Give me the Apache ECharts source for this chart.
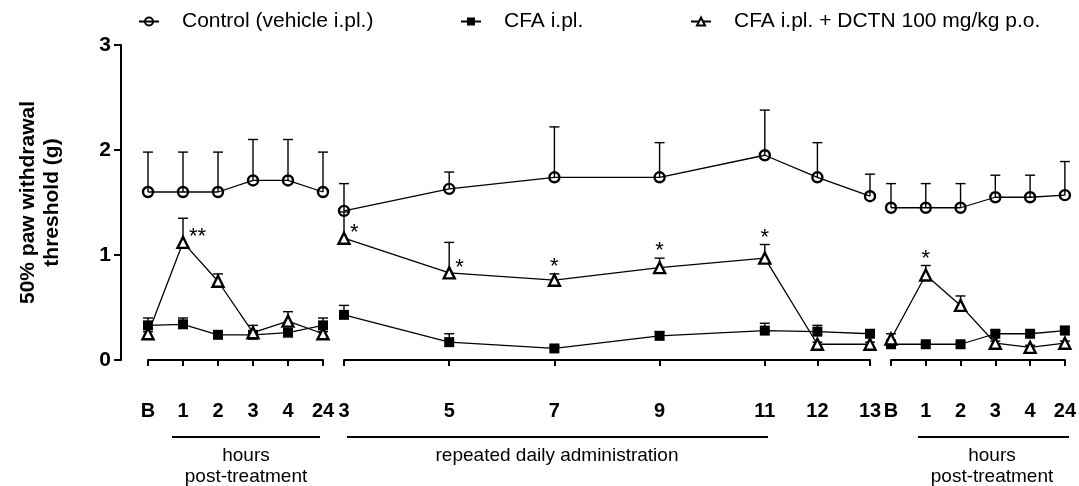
<!DOCTYPE html>
<html>
<head>
<meta charset="utf-8">
<script src="https://cdn.jsdelivr.net/npm/echarts@6/dist/echarts.min.js"></script>
<style>
  html, body { margin: 0; padding: 0; background: #fff; }
  #chart { width: 1079px; height: 486px; }
</style>
</head>
<body>
<div id="chart"></div>
<script>
// x categories of the three parts of the broken axis
var hourCats = ["B", "1", "2", "3", "4", "24"];
var dayCats = ["3", "4", "5", "6", "7", "8", "9", "10", "11", "12", "13"];
var dayShown = ["3", "5", "7", "9", "11", "12", "13"];

// part 1: hours after first dose
var control1 = [1.60, 1.60, 1.60, 1.71, 1.71, 1.60];
var control1Sem = [0.38, 0.38, 0.38, 0.39, 0.39, 0.38];
var cfa1 = [0.33, 0.34, 0.24, 0.24, 0.26, 0.33];
var cfa1Sem = [0.07, 0.06, 0.02, 0.02, 0.03, 0.07];
var dctn1 = [0.25, 1.12, 0.75, 0.26, 0.37, 0.25];
var dctn1Sem = [0.02, 0.23, 0.07, 0.07, 0.09, 0.02];
var dctn1Stars = ["", "**", "", "", "", ""];

// part 2: repeated daily administration
var control2 = [1.42, 1.63, 1.74, 1.74, 1.95, 1.74, 1.56];
var control2Sem = [0.26, 0.16, 0.48, 0.33, 0.43, 0.33, 0.21];
var cfa2 = [0.43, 0.17, 0.11, 0.23, 0.28, 0.27, 0.25];
var cfa2Sem = [0.09, 0.08, 0.02, 0.04, 0.07, 0.06, 0.03];
var dctn2 = [1.16, 0.83, 0.76, 0.88, 0.97, 0.15, 0.15];
var dctn2Sem = [0.25, 0.29, 0.06, 0.09, 0.13, 0.02, 0.02];
var dctn2Stars = ["*", "*", "*", "*", "*", "", ""];

// part 3: hours after last dose
var control3 = [1.45, 1.45, 1.45, 1.55, 1.55, 1.57];
var control3Sem = [0.23, 0.23, 0.23, 0.21, 0.21, 0.32];
var cfa3 = [0.15, 0.15, 0.15, 0.25, 0.25, 0.28];
var cfa3Sem = [0.02, 0.02, 0.02, 0.03, 0.03, 0.04];
var dctn3 = [0.20, 0.81, 0.52, 0.16, 0.12, 0.16];
var dctn3Sem = [0.05, 0.09, 0.09, 0.02, 0.02, 0.02];
var dctn3Stars = ["", "*", "", "", "", ""];

var yTicks = [0, 1, 2, 3];

var FONT = "'Liberation Sans', Arial, sans-serif";
var NAME_CTRL = "Control (vehicle i.pl.)";
var NAME_CFA = "CFA i.pl.";
var NAME_DCTN = "CFA i.pl. + DCTN 100 mg/kg p.o.";

var chart = echarts.init(document.getElementById("chart"));

function pairs(cats, vals) {
  return vals.map(function (v, i) { return [cats[i], v]; });
}

function lineSeries(name, idx, cats, vals) {
  var s = {
    name: name,
    type: "line",
    xAxisIndex: idx,
    yAxisIndex: idx,
    data: pairs(cats, vals),
    z: 3,
    lineStyle: { color: "#000", width: 1.3 },
    emphasis: { disabled: true }
  };
  if (name === NAME_CTRL) {
    s.symbol = "circle";
    s.symbolSize = 10;
    s.itemStyle = { color: "rgba(255,255,255,0)", borderColor: "#000", borderWidth: 2.4 };
  } else if (name === NAME_CFA) {
    s.symbol = "rect";
    s.symbolSize = 10;
    s.itemStyle = { color: "#000", borderColor: "#000", borderWidth: 0 };
  } else {
    s.symbol = "triangle";
    s.symbolSize = 11;
    s.itemStyle = { color: "#fff", borderColor: "#000", borderWidth: 2.4 };
  }
  return s;
}

function errorSeries(idx, cats, vals, sems) {
  return {
    type: "custom",
    xAxisIndex: idx,
    yAxisIndex: idx,
    z: 1,
    silent: true,
    data: vals.map(function (v, i) { return [cats[i], v, v + sems[i]]; }),
    renderItem: function (params, api) {
      var lo = api.coord([api.value(0), api.value(1)]);
      var hi = api.coord([api.value(0), api.value(2)]);
      return {
        type: "group",
        children: [
          { type: "line", shape: { x1: lo[0], y1: lo[1], x2: hi[0], y2: hi[1] }, style: { stroke: "#000", lineWidth: 1.4 } },
          { type: "line", shape: { x1: hi[0] - 5, y1: hi[1], x2: hi[0] + 5, y2: hi[1] }, style: { stroke: "#000", lineWidth: 1.4 } }
        ]
      };
    }
  };
}

function starSeries(idx, cats, vals, sems, stars, sideIdx) {
  var data = [];
  stars.forEach(function (s, i) {
    if (s) data.push([cats[i], vals[i], vals[i] + sems[i], s, sideIdx.indexOf(i) >= 0 ? 1 : 0]);
  });
  return {
    type: "custom",
    xAxisIndex: idx,
    yAxisIndex: idx,
    z: 4,
    silent: true,
    data: data,
    renderItem: function (params, api) {
      var side = api.value(4);
      var txt = data[params.dataIndex][3];
      var p = side ? api.coord([api.value(0), api.value(1)]) : api.coord([api.value(0), api.value(2)]);
      return {
        type: "text",
        x: side ? p[0] + 6 : p[0],
        y: side ? p[1] + 6 : p[1] + 4,
        style: {
          text: txt, fill: "#000", font: "22px " + FONT,
          textAlign: side ? "left" : "center", textVerticalAlign: "bottom"
        }
      };
    }
  };
}

var grids = [
  { left: 148, top: 45, width: 175, height: 315 },
  { left: 344, top: 45, width: 526, height: 315 },
  { left: 891, top: 45, width: 175, height: 315 }
];

var xLabelStyle = { color: "#000", fontSize: 20, fontWeight: "bold", fontFamily: FONT, margin: 12 };

function xAxis(idx, cats, shown) {
  var keep = function (i, v) { return shown.indexOf(v) >= 0; };
  return {
    type: "category",
    gridIndex: idx,
    data: cats,
    boundaryGap: false,
    position: "bottom",
    offset: 29,
    axisLine: { lineStyle: { color: "#000", width: 2 } },
    axisTick: { show: true, length: 6, interval: keep, lineStyle: { color: "#000", width: 2 } },
    axisLabel: Object.assign({ interval: keep }, xLabelStyle),
    splitLine: { show: false }
  };
}

function yAxis(idx) {
  var a = {
    type: "value",
    gridIndex: idx,
    min: yTicks[0],
    max: yTicks[yTicks.length - 1],
    interval: 1,
    splitLine: { show: false },
    show: idx === 0
  };
  if (idx === 0) {
    a.offset = 27;
    a.axisLine = { show: true, lineStyle: { color: "#000", width: 2 } };
    a.axisTick = { show: true, length: 7, lineStyle: { color: "#000", width: 2 } };
    a.axisLabel = { color: "#000", fontSize: 21, fontWeight: "bold", fontFamily: FONT, margin: 10 };
    a.name = "50% paw withdrawal\nthreshold (g)";
    a.nameLocation = "middle";
    a.nameGap = 57;
    a.nameTextStyle = { color: "#000", fontSize: 21, fontWeight: "bold", fontFamily: FONT, lineHeight: 24 };
  }
  return a;
}

var series = [
  errorSeries(0, hourCats, control1, control1Sem),
  errorSeries(0, hourCats, cfa1, cfa1Sem),
  errorSeries(0, hourCats, dctn1, dctn1Sem),
  lineSeries(NAME_CTRL, 0, hourCats, control1),
  lineSeries(NAME_CFA, 0, hourCats, cfa1),
  lineSeries(NAME_DCTN, 0, hourCats, dctn1),
  starSeries(0, hourCats, dctn1, dctn1Sem, dctn1Stars, [1]),

  errorSeries(1, dayShown, control2, control2Sem),
  errorSeries(1, dayShown, cfa2, cfa2Sem),
  errorSeries(1, dayShown, dctn2, dctn2Sem),
  lineSeries(NAME_CTRL, 1, dayShown, control2),
  lineSeries(NAME_CFA, 1, dayShown, cfa2),
  lineSeries(NAME_DCTN, 1, dayShown, dctn2),
  starSeries(1, dayShown, dctn2, dctn2Sem, dctn2Stars, [0, 1]),

  errorSeries(2, hourCats, control3, control3Sem),
  errorSeries(2, hourCats, cfa3, cfa3Sem),
  errorSeries(2, hourCats, dctn3, dctn3Sem),
  lineSeries(NAME_CTRL, 2, hourCats, control3),
  lineSeries(NAME_CFA, 2, hourCats, cfa3),
  lineSeries(NAME_DCTN, 2, hourCats, dctn3),
  starSeries(2, hourCats, dctn3, dctn3Sem, dctn3Stars, [])
];

function legend(name, left) {
  return {
    data: [name],
    left: left,
    top: 6,
    itemWidth: 20,
    itemHeight: 10,
    selectedMode: false,
    textStyle: { color: "#000", fontSize: 21, fontFamily: FONT, padding: [0, 0, 0, 18] }
  };
}

var bracketText = { fill: "#000", font: "19px " + FONT, textAlign: "center" };

var option = {
  animation: false,
  backgroundColor: "#fff",
  legend: [legend(NAME_CTRL, 133), legend(NAME_CFA, 455), legend(NAME_DCTN, 685)],
  grid: grids,
  xAxis: [xAxis(0, hourCats, hourCats), xAxis(1, dayCats, dayShown), xAxis(2, hourCats, hourCats)],
  yAxis: [yAxis(0), yAxis(1), yAxis(2)],
  series: series,
  graphic: [
    { type: "line", shape: { x1: 172, y1: 437, x2: 320, y2: 437 }, style: { stroke: "#000", lineWidth: 2 } },
    { type: "line", shape: { x1: 347, y1: 437, x2: 768, y2: 437 }, style: { stroke: "#000", lineWidth: 2 } },
    { type: "line", shape: { x1: 918, y1: 437, x2: 1069, y2: 437 }, style: { stroke: "#000", lineWidth: 2 } },
    { type: "text", x: 246, y: 446, style: Object.assign({ text: "hours" }, bracketText) },
    { type: "text", x: 246, y: 467, style: Object.assign({ text: "post-treatment" }, bracketText) },
    { type: "text", x: 557, y: 446, style: Object.assign({ text: "repeated daily administration" }, bracketText) },
    { type: "text", x: 992, y: 446, style: Object.assign({ text: "hours" }, bracketText) },
    { type: "text", x: 992, y: 467, style: Object.assign({ text: "post-treatment" }, bracketText) }
  ]
};

chart.setOption(option);
window.addEventListener("resize", function () {
  chart.resize();
});
</script>
</body>
</html>
